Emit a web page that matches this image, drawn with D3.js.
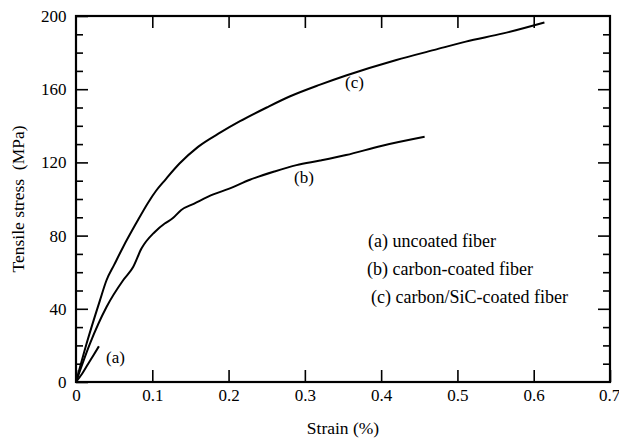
<!DOCTYPE html>
<html>
<head>
<meta charset="utf-8">
<script src="https://cdn.jsdelivr.net/npm/d3@7"></script>
<style>
  body { margin: 0; background: #fff; }
  svg text { font-family: "Liberation Serif", "Times New Roman", Times, serif; fill: #000; }
</style>
</head>
<body>
<div id="chart-area"></div>
<script>
const MARGIN = { LEFT: 76, RIGHT: 9, TOP: 16, BOTTOM: 58 }
const WIDTH = 619 - MARGIN.LEFT - MARGIN.RIGHT
const HEIGHT = 440 - MARGIN.TOP - MARGIN.BOTTOM

// strain (%) / tensile stress (MPa)
const strainA = [0, 0.008, 0.016, 0.0227, 0.03]
const stressA = [0, 4.5, 10, 14.5, 19.5]

const strainB = [0, 0.0183, 0.04, 0.0618, 0.0749, 0.0858, 0.1033, 0.1163, 0.1263, 0.138, 0.155, 0.18, 0.2, 0.228, 0.26, 0.289, 0.32, 0.354, 0.4, 0.457]
const stressB = [0, 21, 41, 55.6, 62.8, 72.9, 82, 86.6, 89.3, 94, 97.5, 102.5, 105.5, 110.5, 115, 118.5, 121, 124, 129, 134]

const strainC = [0, 0.0139, 0.0314, 0.04, 0.05, 0.0618, 0.0792, 0.0945, 0.105, 0.117, 0.136, 0.16, 0.19, 0.215, 0.25, 0.28, 0.32, 0.354, 0.42, 0.47, 0.511, 0.56, 0.614]
const stressC = [0, 21, 44.6, 55.6, 64, 73.8, 87, 98, 104.5, 110.5, 119.5, 128.5, 136.5, 142.5, 150, 156, 162.5, 167.5, 176, 181.5, 186, 190.5, 196.5]

const xTicks = [0, 0.1, 0.2, 0.3, 0.4, 0.5, 0.6, 0.7]
const yMajorTicks = [0, 40, 80, 120, 160, 200]
const yMinorTicks = [10, 20, 30, 50, 60, 70, 90, 100, 110, 130, 140, 150, 170, 180, 190]

const legendLabels = ["(a) uncoated fiber", "(b) carbon-coated fiber", "(c) carbon/SiC-coated fiber"]

const svg = d3.select("#chart-area").append("svg")
  .attr("width", 619)
  .attr("height", 440)

const g = svg.append("g")
  .attr("transform", `translate(${MARGIN.LEFT}, ${MARGIN.TOP})`)

const x = d3.scaleLinear().domain([0, 0.7]).range([0, WIDTH])
const y = d3.scaleLinear().domain([0, 200]).range([HEIGHT, 0])

function styleAxis(sel) {
  sel.attr("font-family", null)
  sel.select(".domain").remove()
  sel.selectAll(".tick line").attr("stroke", "#000").attr("stroke-width", 1.6)
  sel.selectAll("text").attr("font-size", "17px")
}

// bottom
g.append("g")
  .attr("transform", `translate(0, ${HEIGHT})`)
  .call(d3.axisBottom(x).tickValues(xTicks).tickSize(-12).tickPadding(6.5).tickFormat(d => String(d)))
  .call(styleAxis)
  .selectAll("text")
  .attr("dx", d => d === 0.7 ? "-1" : null)

// top
g.append("g")
  .call(d3.axisTop(x).tickValues(xTicks.slice(1, -1)).tickSize(-12).tickFormat(""))
  .call(styleAxis)

// left
g.append("g")
  .call(d3.axisLeft(y).tickValues(yMajorTicks).tickSize(-12).tickPadding(9.5).tickFormat(d => String(d)))
  .call(styleAxis)
g.append("g")
  .call(d3.axisLeft(y).tickValues(yMinorTicks).tickSize(-7).tickFormat(""))
  .call(styleAxis)

// right
g.append("g")
  .attr("transform", `translate(${WIDTH}, 0)`)
  .call(d3.axisRight(y).tickValues(yMajorTicks.slice(1, -1)).tickSize(-12).tickFormat(""))
  .call(styleAxis)
g.append("g")
  .attr("transform", `translate(${WIDTH}, 0)`)
  .call(d3.axisRight(y).tickValues(yMinorTicks).tickSize(-7).tickFormat(""))
  .call(styleAxis)

// frame
g.append("rect")
  .attr("width", WIDTH)
  .attr("height", HEIGHT)
  .attr("fill", "none")
  .attr("stroke", "#000")
  .attr("stroke-width", 2.2)

// curves
const line = d3.line()
  .x(d => x(d[0]))
  .y(d => y(d[1]))
  .curve(d3.curveMonotoneX)

const series = [
  d3.zip(strainA, stressA),
  d3.zip(strainB, stressB),
  d3.zip(strainC, stressC)
]

g.selectAll(".curve")
  .data(series)
  .enter().append("path")
  .attr("class", "curve")
  .attr("d", line)
  .attr("fill", "none")
  .attr("stroke", "#000")
  .attr("stroke-width", 2)

// curve labels
const curveLabel = (txt, px, py) => svg.append("text")
  .attr("x", px).attr("y", py)
  .attr("font-size", "17px")
  .text(txt)
curveLabel("(a)", 106, 363)
curveLabel("(b)", 294, 183)
curveLabel("(c)", 345, 88)

// legend
svg.selectAll(".legend")
  .data(legendLabels)
  .enter().append("text")
  .attr("class", "legend")
  .attr("x", (d, i) => [368, 367, 371][i])
  .attr("y", (d, i) => 247 + i * 28)
  .attr("font-size", "18px")
  .text(d => d)

// X label
svg.append("text")
  .attr("x", MARGIN.LEFT + WIDTH / 2)
  .attr("y", 434)
  .attr("font-size", "17.5px")
  .attr("text-anchor", "middle")
  .text("Strain (%)")

// Y label
svg.append("text")
  .attr("transform", `translate(24, ${MARGIN.TOP + HEIGHT / 2}) rotate(-90)`)
  .attr("font-size", "17.5px")
  .attr("text-anchor", "middle")
  .style("white-space", "pre")
  .text("Tensile stress  (MPa)")
</script>
</body>
</html>
